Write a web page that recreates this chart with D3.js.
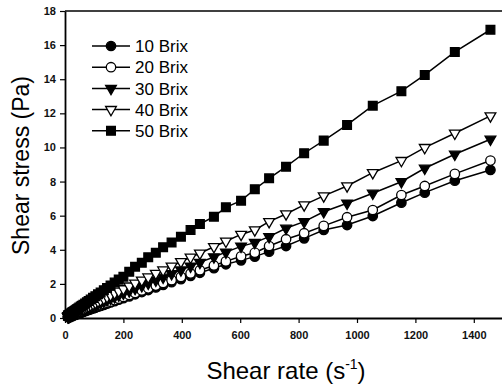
<!DOCTYPE html>
<html>
<head>
<meta charset="utf-8">
<script src="https://cdn.jsdelivr.net/npm/d3@7"></script>
<style>
  html, body { margin: 0; padding: 0; background: #fff; }
  svg { display: block; }
  .tick text { font-family: 'Liberation Sans', Arial, sans-serif; font-size: 11px; font-weight: bold; fill: #111; }
</style>
</head>
<body>
<div class="container"></div>
<script>
// Shear rate (s-1), shared by all series
const shearRate = [10, 11, 12, 13, 14, 15, 17, 18, 20, 22, 24, 26, 28, 30, 33, 36, 39, 42, 45, 49,
  54, 58, 63, 69, 75, 81, 88, 96, 104, 113, 122, 133, 144, 156, 170, 184, 200, 220, 240, 263,
  285, 311, 336, 365, 397, 430, 462, 510, 551, 603, 650, 699, 757, 819, 886, 966, 1054, 1152, 1232, 1335, 1457];

// Shear stress (Pa)
const brix10 = [0.06, 0.06, 0.07, 0.08, 0.08, 0.09, 0.10, 0.10, 0.12, 0.13, 0.14, 0.15, 0.16, 0.17, 0.19, 0.21, 0.23, 0.24, 0.26, 0.28,
  0.31, 0.34, 0.37, 0.40, 0.44, 0.47, 0.51, 0.56, 0.60, 0.66, 0.71, 0.77, 0.84, 0.91, 0.99, 1.07, 1.16, 1.27, 1.39, 1.52,
  1.64, 1.79, 1.94, 2.10, 2.28, 2.47, 2.65, 2.92, 3.15, 3.38, 3.60, 3.89, 4.22, 4.67, 5.16, 5.45, 5.98, 6.76, 7.35, 8.05, 8.68];
const brix20 = [0.06, 0.07, 0.07, 0.08, 0.09, 0.09, 0.11, 0.11, 0.12, 0.14, 0.15, 0.16, 0.17, 0.19, 0.20, 0.22, 0.24, 0.26, 0.28, 0.30,
  0.33, 0.36, 0.39, 0.43, 0.46, 0.50, 0.54, 0.59, 0.64, 0.70, 0.75, 0.82, 0.89, 0.96, 1.05, 1.13, 1.23, 1.35, 1.47, 1.61,
  1.74, 1.90, 2.05, 2.22, 2.41, 2.61, 2.80, 3.08, 3.32, 3.62, 3.83, 4.22, 4.62, 4.97, 5.40, 5.91, 6.33, 7.21, 7.74, 8.45, 9.23];
const brix30 = [0.07, 0.08, 0.09, 0.10, 0.10, 0.11, 0.13, 0.13, 0.15, 0.16, 0.18, 0.19, 0.21, 0.22, 0.24, 0.27, 0.29, 0.31, 0.33, 0.36,
  0.40, 0.43, 0.46, 0.51, 0.55, 0.60, 0.65, 0.70, 0.76, 0.83, 0.89, 0.97, 1.05, 1.14, 1.24, 1.34, 1.45, 1.59, 1.73, 1.89,
  2.04, 2.22, 2.39, 2.59, 2.81, 3.04, 3.26, 3.58, 3.86, 4.20, 4.42, 4.77, 5.26, 5.65, 6.23, 6.73, 7.31, 7.99, 8.78, 9.60, 10.48];
const brix40 = [0.09, 0.10, 0.11, 0.12, 0.12, 0.13, 0.15, 0.16, 0.18, 0.19, 0.21, 0.23, 0.25, 0.26, 0.29, 0.32, 0.34, 0.37, 0.39, 0.43,
  0.47, 0.51, 0.55, 0.60, 0.65, 0.70, 0.76, 0.83, 0.90, 0.98, 1.05, 1.14, 1.24, 1.34, 1.46, 1.57, 1.71, 1.87, 2.04, 2.22,
  2.40, 2.61, 2.81, 3.04, 3.30, 3.56, 3.80, 4.18, 4.50, 4.90, 5.16, 5.65, 6.10, 6.63, 7.16, 7.74, 8.52, 9.23, 9.99, 10.83, 11.85];
const brix50 = [0.13, 0.14, 0.15, 0.16, 0.18, 0.19, 0.21, 0.23, 0.25, 0.28, 0.30, 0.33, 0.35, 0.38, 0.41, 0.45, 0.49, 0.52, 0.56, 0.61,
  0.67, 0.72, 0.78, 0.85, 0.93, 1.00, 1.08, 1.18, 1.28, 1.39, 1.50, 1.63, 1.76, 1.90, 2.08, 2.25, 2.42, 2.71, 3.01, 3.24,
  3.56, 3.83, 4.15, 4.42, 4.77, 5.16, 5.51, 5.94, 6.49, 6.88, 7.55, 8.19, 8.87, 9.66, 10.40, 11.32, 12.45, 13.30, 14.25, 15.60, 16.90];

const seriesNames = ['10 Brix', '20 Brix', '30 Brix', '40 Brix', '50 Brix'];
const seriesValues = [brix10, brix20, brix30, brix40, brix50];
const xTicks = [0, 200, 400, 600, 800, 1000, 1200, 1400];
const yTicks = [0, 2, 4, 6, 8, 10, 12, 14, 16, 18];

// Constants
const width = 502;
const height = 387;
const font = "'Liberation Sans', Arial, sans-serif";

// marker style per series: [symbol, filled, size]
const markers = [
  [d3.symbolCircle, true, 70],
  [d3.symbolCircle, false, 70],
  [d3.symbolTriangle, true, 50],
  [d3.symbolTriangle, false, 50],
  [d3.symbolSquare, true, 76],
];

const x = d3.scaleLinear().domain([0, 1500]).range([65, 503]);
const y = d3.scaleLinear().domain([0, 18]).range([318, 11]);

const svg = d3
  .select('.container')
  .append('svg')
  .attr('width', width)
  .attr('height', height);

// Frame (top line)
svg
  .append('line')
  .attr('x1', x(0))
  .attr('x2', x(1500))
  .attr('y1', y(18))
  .attr('y2', y(18))
  .attr('stroke', '#000')
  .attr('stroke-width', 1.6);

// Axes
const xAxis = d3
  .axisBottom(x)
  .tickValues(xTicks)
  .tickFormat(d3.format('d'))
  .tickSize(5)
  .tickPadding(8)
  .tickSizeOuter(0);
const yAxis = d3
  .axisLeft(y)
  .tickValues(yTicks)
  .tickFormat(d3.format('d'))
  .tickSize(5)
  .tickPadding(4)
  .tickSizeOuter(0);

svg
  .append('g')
  .attr('transform', `translate(0,${y(0)})`)
  .call(xAxis)
  .call((g) => g.select('.domain').attr('stroke-width', 1.8))
  .call((g) => g.selectAll('.tick line').attr('stroke-width', 1.2));

svg
  .append('g')
  .attr('transform', `translate(${x(0)},0)`)
  .call(yAxis)
  .call((g) => g.select('.domain').attr('stroke-width', 1.8))
  .call((g) => g.selectAll('.tick line').attr('stroke-width', 1.2));

// Axis titles
svg
  .append('text')
  .attr('transform', `translate(29,${(y(0) + y(18)) / 2 + 1}) rotate(-90)`)
  .attr('text-anchor', 'middle')
  .style('font-family', font)
  .style('font-size', '23px')
  .text('Shear stress (Pa)');

const xTitle = svg
  .append('text')
  .attr('x', 286)
  .attr('y', 379)
  .attr('text-anchor', 'middle')
  .style('font-family', font)
  .style('font-size', '24px');
xTitle.append('tspan').text('Shear rate (s');
xTitle.append('tspan').attr('dy', -10).style('font-size', '14px').text('-1');
xTitle.append('tspan').attr('dy', 10).text(')');

// Series: line + markers
const line = d3
  .line()
  .x((d) => x(d[0]))
  .y((d) => y(d[1]));

const drawMarker = (sel, i) => {
  const [type, filled, size] = markers[i];
  sel
    .attr('d', d3.symbol().type(type).size(size))
    .attr('fill', filled ? '#000' : '#fff')
    .attr('stroke', '#000')
    .attr('stroke-width', 1.3);
};

seriesValues.forEach((values, i) => {
  const points = shearRate.map((s, j) => [s, values[j]]);
  const g = svg.append('g').attr('class', 'series');

  g.append('path')
    .datum(points)
    .attr('fill', 'none')
    .attr('stroke', '#000')
    .attr('stroke-width', 1.5)
    .attr('d', line);

  g.selectAll('path.marker')
    .data(points)
    .enter()
    .append('path')
    .attr('class', 'marker')
    .attr('transform', (d) => {
      const rot = markers[i][0] === d3.symbolTriangle ? ' rotate(180)' : '';
      return `translate(${x(d[0])},${y(d[1])})${rot}`;
    })
    .call(drawMarker, i);
});

// Legend
const legend = svg.append('g').attr('id', 'legend');
seriesNames.forEach((name, i) => {
  const row = legend.append('g').attr('transform', `translate(0,${46 + i * 21.2})`);
  row
    .append('line')
    .attr('x1', 92)
    .attr('x2', 130)
    .attr('stroke', '#000')
    .attr('stroke-width', 1.5);
  row
    .append('path')
    .attr('transform', `translate(111,0)${markers[i][0] === d3.symbolTriangle ? ' rotate(180)' : ''}`)
    .call(drawMarker, i);
  row
    .append('text')
    .attr('x', 135)
    .attr('dy', '0.36em')
    .style('font-family', font)
    .style('font-size', '17px')
    .text(name);
});
</script>
</body>
</html>
